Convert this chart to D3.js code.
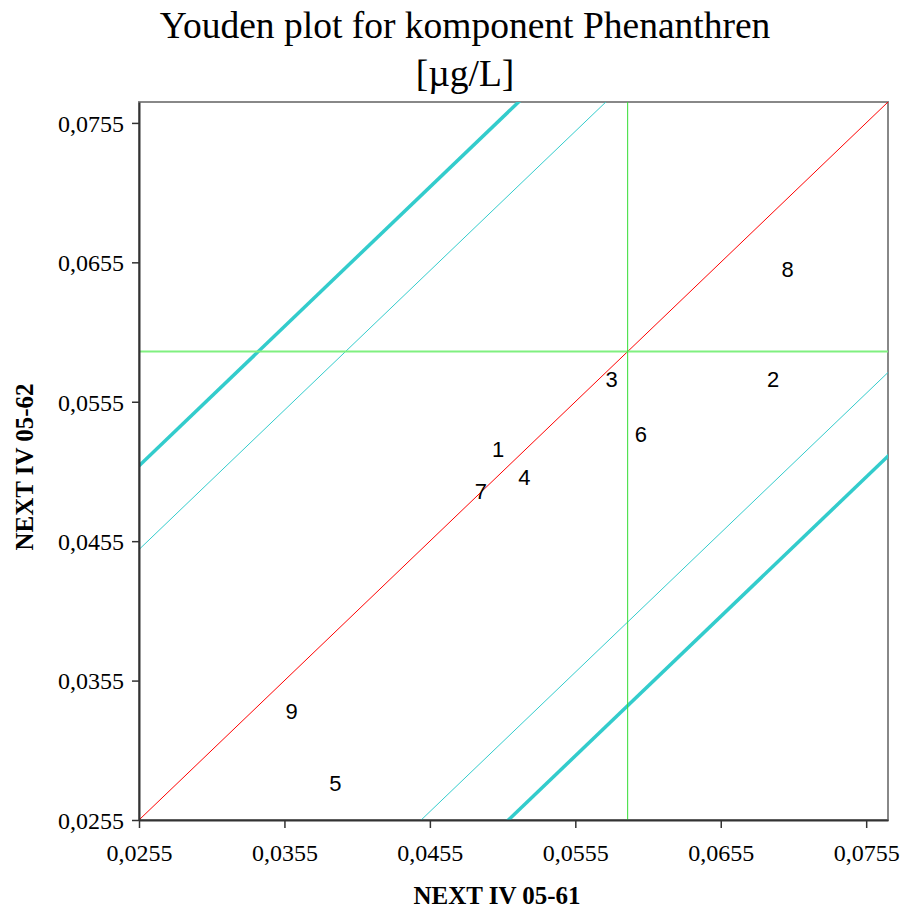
<!DOCTYPE html>
<html>
<head>
<meta charset="utf-8">
<script src="https://cdn.jsdelivr.net/npm/d3@7"></script>
<style>
  body { margin: 0; background: #fff; }
</style>
</head>
<body>
<div class="canvas"></div>
<script>
// data
const labs = ['1', '2', '3', '4', '5', '6', '7', '8', '9'];
const xVals = [0.0502, 0.0691, 0.0580, 0.0520, 0.0390, 0.0600, 0.0490, 0.0701, 0.0360];
const yVals = [0.0521, 0.0571, 0.0571, 0.0501, 0.0281, 0.0532, 0.0491, 0.0650, 0.0333];
const tickVals = [0.0255, 0.0355, 0.0455, 0.0555, 0.0655, 0.0755];
const domainMin = 0.0255, domainMax = 0.0770;
const median = 0.0591;
const innerOff = 0.0194;  // thin cyan lines
const outerOff = 0.0254;  // thick cyan lines

const margin = { top: 102, right: 20, bottom: 94, left: 139 };
const width = 908, height = 914;
const graphWidth = width - margin.left - margin.right;
const graphHeight = height - margin.top - margin.bottom;
const serif = '"Liberation Serif", "Times New Roman", serif';

const svg = d3.select('.canvas')
    .append('svg')
    .attr('width', width)
    .attr('height', height);

const x = d3.scaleLinear().domain([domainMin, domainMax]).range([0, graphWidth]);
const y = d3.scaleLinear().domain([domainMin, domainMax]).range([graphHeight, 0]);

svg.append('defs').append('clipPath').attr('id', 'clip')
    .append('rect').attr('width', graphWidth).attr('height', graphHeight);

const graph = svg.append('g')
    .attr('transform', `translate(${margin.left}, ${margin.top})`);

// title
svg.append('text')
    .attr('x', 465).attr('y', 38)
    .attr('text-anchor', 'middle')
    .style('font-family', serif)
    .style('font-size', '37.5px')
    .text('Youden plot for komponent Phenanthren');
svg.append('text')
    .attr('x', 465).attr('y', 86)
    .attr('text-anchor', 'middle')
    .style('font-family', serif)
    .style('font-size', '37.5px')
    .text('[µg/L]');

// frame top/right in gray
graph.append('rect')
    .attr('width', graphWidth).attr('height', graphHeight)
    .attr('fill', 'none').attr('stroke', '#888').attr('stroke-width', 2);

const lines = graph.append('g').attr('clip-path', 'url(#clip)');

// diagonal and offset lines
const diag = [
    { off: 0, color: '#ff0000', w: 1 },
    { off: innerOff, color: '#33cccc', w: 1 },
    { off: -innerOff, color: '#33cccc', w: 1 },
    { off: outerOff, color: '#33cccc', w: 3.5 },
    { off: -outerOff, color: '#33cccc', w: 3.5 }
];
lines.selectAll('line.diag')
    .data(diag)
    .enter()
    .append('line')
        .attr('class', 'diag')
        .attr('x1', x(domainMin - 0.1)).attr('y1', d => y(domainMin - 0.1 + d.off))
        .attr('x2', x(domainMax + 0.1)).attr('y2', d => y(domainMax + 0.1 + d.off))
        .attr('stroke', d => d.color)
        .attr('stroke-width', d => d.w);

// median lines
lines.append('line')
    .attr('x1', 0).attr('x2', graphWidth)
    .attr('y1', y(median)).attr('y2', y(median))
    .attr('stroke', '#80f080').attr('stroke-width', 2);
lines.append('line')
    .attr('x1', x(median)).attr('x2', x(median))
    .attr('y1', 0).attr('y2', graphHeight)
    .attr('stroke', '#33dd33').attr('stroke-width', 1);

// axes
const fmt = d => d3.format('.4f')(d).replace('.', ',');
const xAxis = d3.axisBottom(x).tickValues(tickVals).tickSizeOuter(0).tickSizeInner(8).tickPadding(16)
    .tickFormat(fmt);
const yAxis = d3.axisLeft(y).tickValues(tickVals).tickSizeOuter(0).tickSizeInner(7).tickPadding(8)
    .tickFormat(fmt);

const xAxisGroup = graph.append('g')
    .attr('transform', `translate(0, ${graphHeight})`)
    .call(xAxis);
const yAxisGroup = graph.append('g').call(yAxis);

[xAxisGroup, yAxisGroup].forEach(g => {
    g.selectAll('path').attr('stroke', '#333').attr('stroke-width', 2);
    g.selectAll('line').attr('stroke', '#333').attr('stroke-width', 1.5);
    g.selectAll('text')
        .style('font-family', serif)
        .style('font-size', '24px')
        .attr('fill', '#000');
});
yAxisGroup.selectAll('text').attr('dy', '0.35em');

// axis titles
svg.append('text')
    .attr('x', 497).attr('y', 904)
    .attr('text-anchor', 'middle')
    .style('font-family', serif)
    .style('font-size', '25px')
    .style('font-weight', 'bold')
    .text('NEXT IV 05-61');
svg.append('text')
    .attr('transform', 'translate(33, 467) rotate(-90)')
    .attr('text-anchor', 'middle')
    .style('font-family', serif)
    .style('font-size', '25px')
    .style('font-weight', 'bold')
    .text('NEXT IV 05-62');

// points drawn as their lab numbers
graph.selectAll('text.lab')
    .data(labs)
    .enter()
    .append('text')
        .attr('class', 'lab')
        .attr('x', (d, i) => x(xVals[i]))
        .attr('y', (d, i) => y(yVals[i]))
        .attr('dy', '0.35em')
        .attr('text-anchor', 'middle')
        .style('font-family', '"Liberation Sans", Arial, sans-serif')
        .style('font-size', '22px')
        .text(d => d);
</script>
</body>
</html>
